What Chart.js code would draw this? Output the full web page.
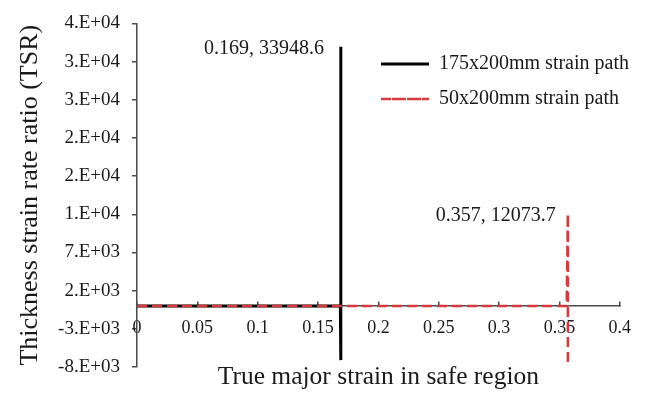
<!DOCTYPE html>
<html>
<head>
<meta charset="utf-8">
<script src="https://cdn.jsdelivr.net/npm/chart.js@4.4.0/dist/chart.umd.min.js"></script>
<style>
  html, body { margin: 0; padding: 0; background: #fff; }
  #wrap { width: 648px; height: 395px; }
</style>
</head>
<body>
<div id="wrap"><canvas id="tsrChart"></canvas></div>
<script>
// 175x200mm specimen: flat TSR, then spikes at failure strain
const strain175 = [0, 0.05, 0.1, 0.15, 0.1685, 0.1685, 0.169, 0.169, 0.169];
const tsr175 = [0, 0, 0, 0, 0, 11200, 0, 33948.6, -7100];

// 50x200mm specimen
const strain50 = [0, 0.05, 0.1, 0.15, 0.2, 0.25, 0.3, 0.356, 0.357, 0.357];
const tsr50 = [0, 0, 0, 0, 0, 0, 0, 0, 12073.7, -8000];

const xTickValues = [0, 0.05, 0.1, 0.15, 0.2, 0.25, 0.3, 0.35, 0.4];
const xTickLabels = ['0', '0.05', '0.1', '0.15', '0.2', '0.25', '0.3', '0.35', '0.4'];
const yTickValues = [-8000, -3000, 2000, 7000, 12000, 17000, 22000, 27000, 32000, 37000];
const yTickLabels = ['-8.E+03', '-3.E+03', '2.E+03', '7.E+03', '1.E+04', '2.E+04', '2.E+04', '3.E+04', '3.E+04', '4.E+04'];

// peak points labelled on the chart
const peakPoints = [
  { x: 0.169, y: 33948.6, text: '0.169, 33948.6', gap: 17 },
  { x: 0.357, y: 12073.7, text: '0.357, 12073.7', gap: 12 }
];

const serif = 'Liberation Serif';
const axisColor = '#4a4a4a';
const textColor = '#1a1a1a';

const toPoints = (xs, ys) => xs.map((x, i) => ({ x: x, y: ys[i] }));

const peakLabelPlugin = {
  id: 'peakLabels',
  afterLayout(chart) {
    // move the legend inside the plot, upper right
    const lg = chart.legend;
    lg.left = 366;
    lg.top = 39;
    lg.right = lg.left + lg.width;
    lg.bottom = lg.top + lg.height;
  },
  afterDatasetsDraw(chart) {
    const ctx = chart.ctx;
    const xs = chart.scales.x, ys = chart.scales.y;
    ctx.save();
    ctx.font = '20px "' + serif + '"';
    ctx.fillStyle = textColor;
    ctx.textAlign = 'right';
    ctx.textBaseline = 'middle';
    peakPoints.forEach(p => {
      ctx.fillText(p.text, xs.getPixelForValue(p.x) - p.gap, ys.getPixelForValue(p.y) + 2);
    });
    ctx.restore();
  }
};

new Chart(document.getElementById('tsrChart'), {
  type: 'scatter',
  data: {
    datasets: [
      {
        label: '50x200mm strain path',
        data: toPoints(strain50, tsr50),
        showLine: true,
        borderColor: '#d63a3c',
        backgroundColor: '#d63a3c',
        borderWidth: 2.5,
        borderDash: [10, 5],
        pointRadius: 0,
        xAxisID: 'x',
        yAxisID: 'y'
      },
      {
        label: '175x200mm strain path',
        data: toPoints(strain175, tsr175),
        showLine: true,
        borderColor: '#000000',
        backgroundColor: '#000000',
        borderWidth: 3,
        pointRadius: 0,
        xAxisID: 'x',
        yAxisID: 'y'
      }
    ]
  },
  options: {
    responsive: true,
    maintainAspectRatio: false,
    animation: false,
    layout: { padding: { top: 15, right: 26, bottom: 0, left: 0 } },
    plugins: {
      tooltip: { enabled: false },
      legend: {
        position: 'chartArea',
        align: 'start',
        reverse: true,
        labels: {
          boxWidth: 48,
          boxHeight: 0,
          padding: 15,
          color: textColor,
          font: { family: serif, size: 20 }
        }
      }
    },
    scales: {
      x: {
        type: 'linear',
        position: { y: 0 },
        min: 0,
        max: 0.4,
        afterBuildTicks: s => { s.ticks = xTickValues.map(v => ({ value: v })); },
        afterFit: s => { s.height = 0; },
        ticks: {
          padding: 17,
          color: textColor,
          font: { family: serif, size: 18 },
          callback: (v, i) => xTickLabels[i]
        },
        grid: { drawOnChartArea: false, tickLength: -5, color: axisColor, lineWidth: 1.5 },
        border: { color: axisColor, width: 1.5 }
      },
      xt: {
        type: 'linear',
        position: 'bottom',
        min: 0,
        max: 0.4,
        afterFit: s => { s.height = 28; },
        ticks: { display: false },
        grid: { display: false },
        border: { display: false },
        title: {
          display: true,
          text: 'True major strain in safe region',
          color: textColor,
          font: { family: serif, size: 25.5 },
          padding: { top: 0, bottom: 2 }
        }
      },
      y: {
        type: 'linear',
        position: 'left',
        min: -8000,
        max: 37000,
        afterBuildTicks: s => { s.ticks = yTickValues.map(v => ({ value: v })); },
        afterFit: s => { s.width = 137; },
        ticks: {
          padding: 12,
          color: textColor,
          font: { family: serif, size: 19 },
          callback: (v, i) => yTickLabels[i]
        },
        grid: { drawOnChartArea: false, tickLength: 5, color: axisColor, lineWidth: 1.5 },
        border: { color: axisColor, width: 1.5 },
        title: {
          display: true,
          text: 'Thickness strain rate ratio (TSR)',
          color: textColor,
          font: { family: serif, size: 26 },
          padding: { top: 15, bottom: 0 }
        }
      }
    }
  },
  plugins: [peakLabelPlugin]
});
</script>
</body>
</html>
